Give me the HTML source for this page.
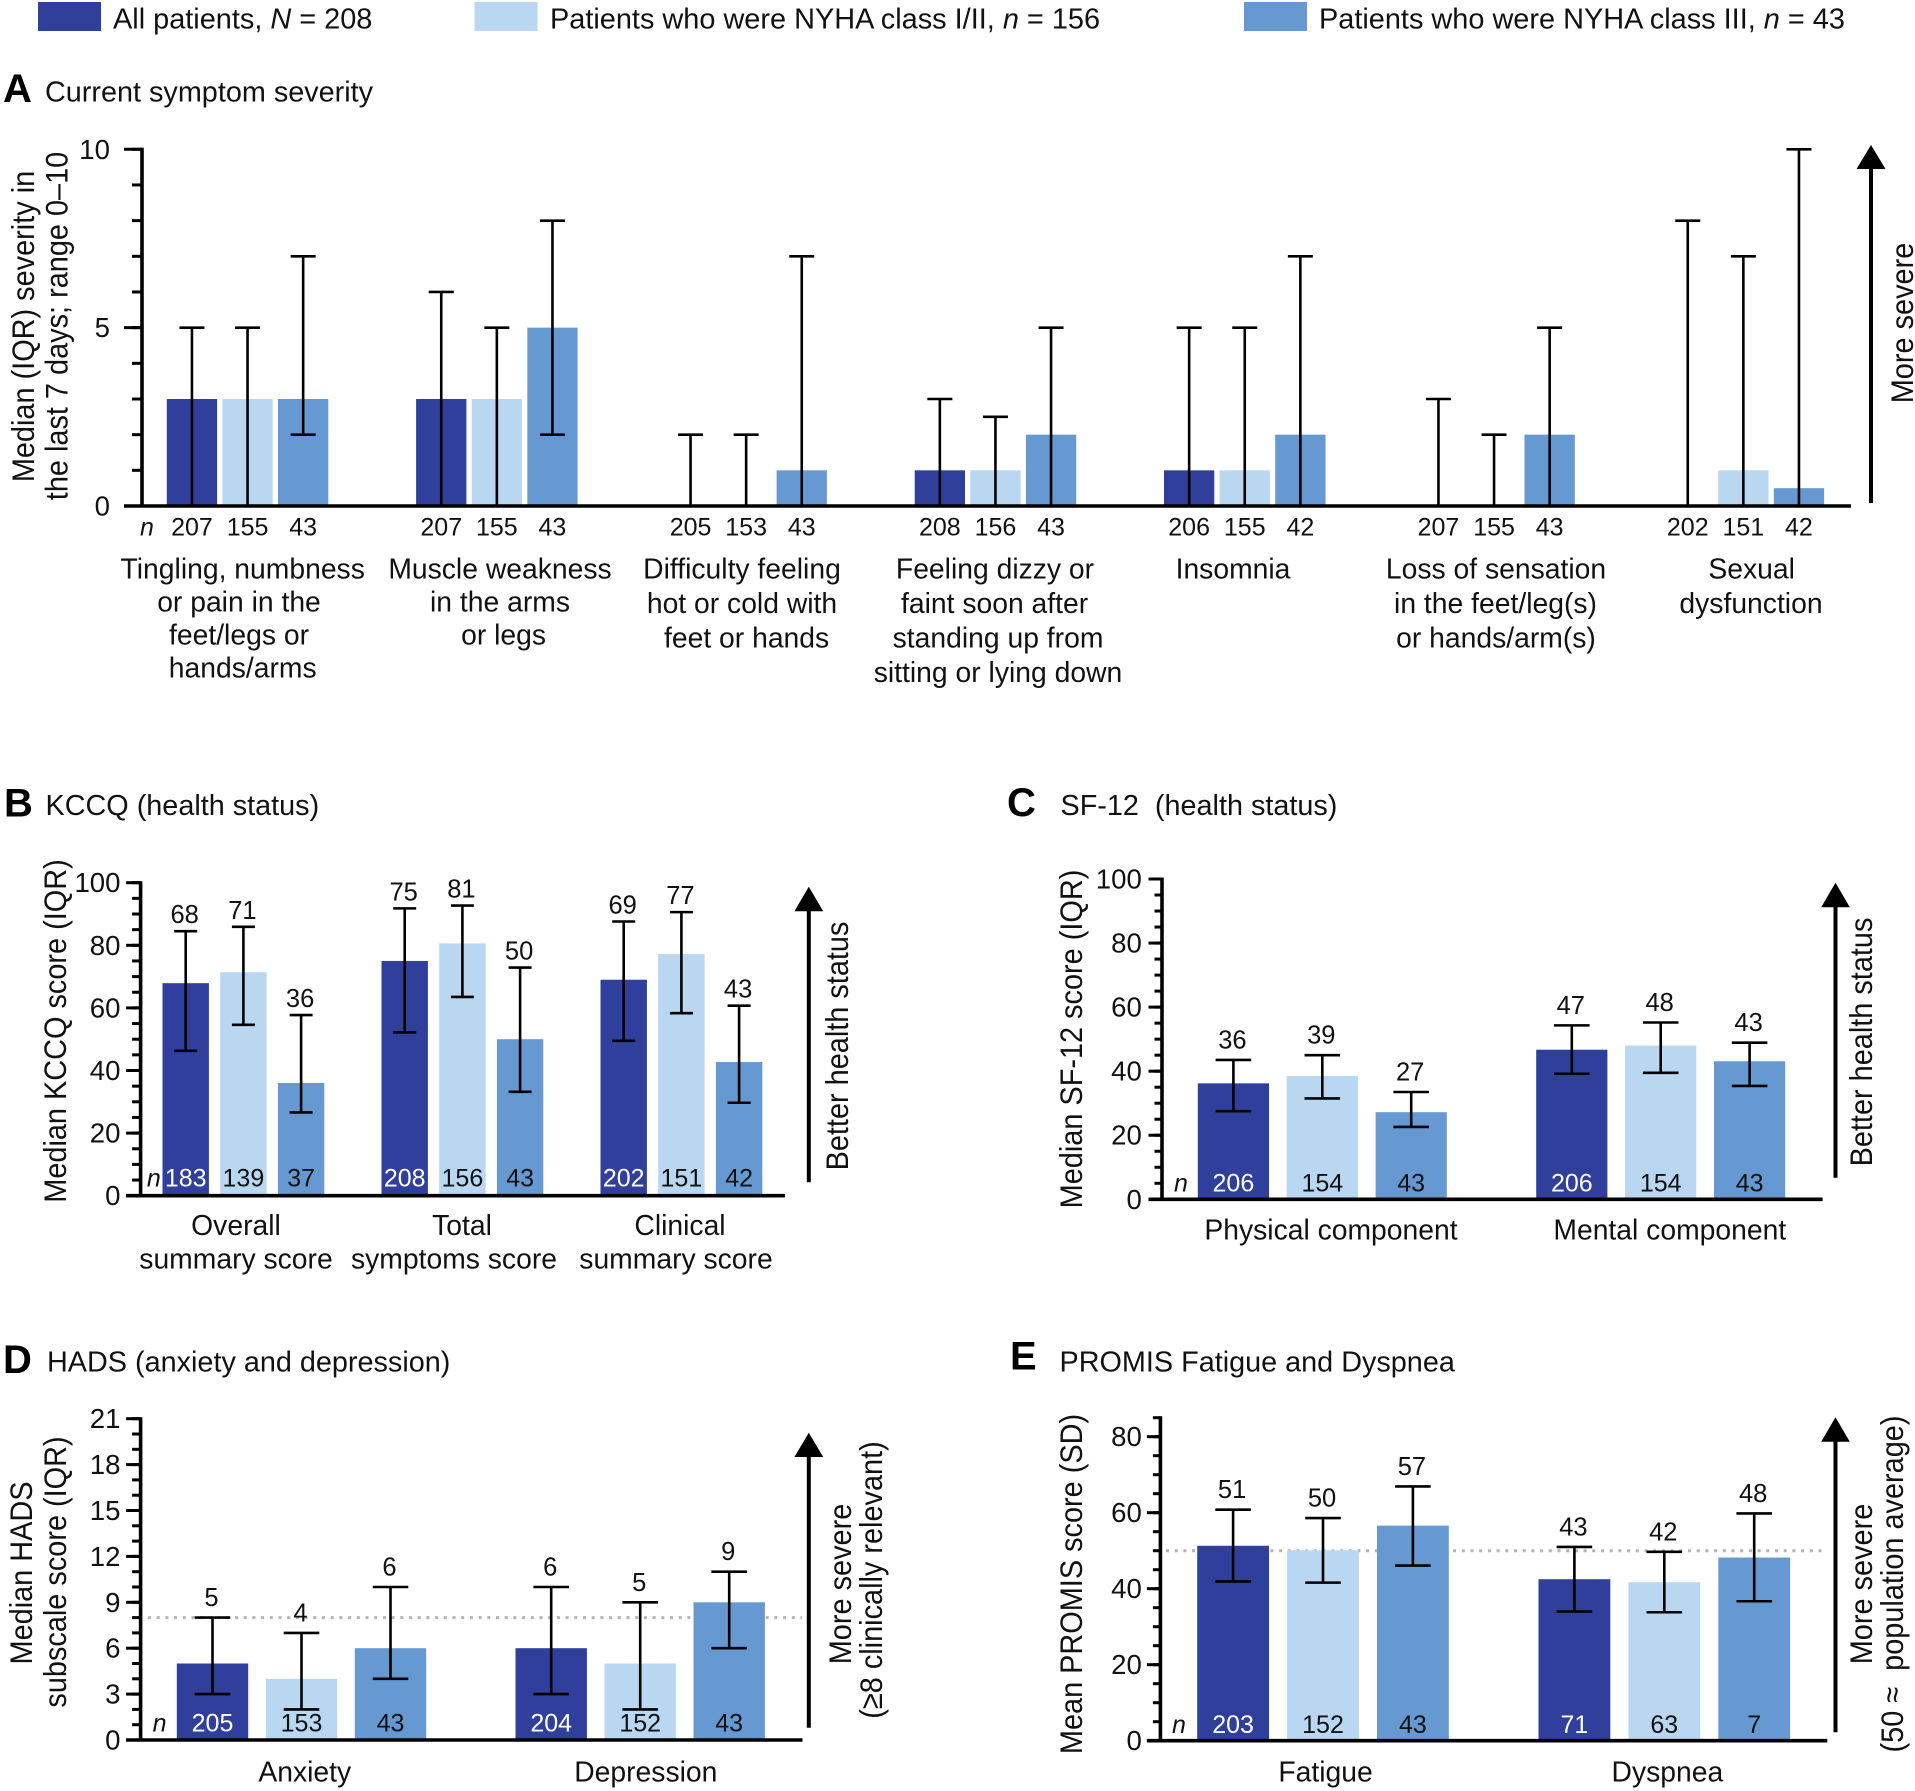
<!DOCTYPE html>
<html lang="en">
<head>
<meta charset="utf-8">
<title>Symptom severity and health status by NYHA class</title>
<style>
html,body{margin:0;padding:0;background:#fff;}
svg{display:block;}
text{font-family:"Liberation Sans",sans-serif;fill:#111;font-size:27.6px;}
.legend-text{font-size:28.9px;}
.cat{font-size:28.3px;text-anchor:middle;}
.rot{text-anchor:middle;font-size:28.9px;}
.title{font-size:28.8px;}
.letter{font-size:40px;font-weight:bold;fill:#000;}
</style>
</head>
<body>
<svg id="figure" xmlns="http://www.w3.org/2000/svg" width="1915" height="1791" viewBox="0 0 1915 1791">
  <g>
    <rect x="38" y="2" width="63" height="29" fill="#303f9b"/>
    <text class="legend-text" x="113" y="28.5">All patients, <tspan font-style="italic">N</tspan> = 208</text>
    <rect x="474.6" y="2" width="63" height="29" fill="#b9d7f1"/>
    <text class="legend-text" x="550" y="28.5">Patients who were NYHA class I/II, <tspan font-style="italic">n</tspan> = 156</text>
    <rect x="1244" y="2" width="63" height="29" fill="#6699d2"/>
    <text class="legend-text" x="1319" y="28.5">Patients who were NYHA class III, <tspan font-style="italic">n</tspan> = 43</text>
  </g>

  <g>
    <text class="letter" x="3" y="102">A</text>
    <text class="title" x="45" y="101.5">Current symptom severity</text>
    <text class="letter" x="4" y="816.5">B</text>
    <text class="title" x="45.5" y="815">KCCQ (health status)</text>
    <text class="letter" x="1007" y="816">C</text>
    <text class="title" x="1060.5" y="815" xml:space="preserve">SF-12  (health status)</text>
    <text class="letter" x="3" y="1373">D</text>
    <text class="title" x="47" y="1371.7">HADS (anxiety and depression)</text>
    <text class="letter" x="1010" y="1369.5">E</text>
    <text class="title" x="1059.5" y="1371.7">PROMIS Fatigue and Dyspnea</text>
  </g>

  <g>
    <text class="rot" transform="translate(34,326.5) rotate(-90) scale(1,1.1)">Median (IQR) severity in</text>
    <text class="rot" transform="translate(67.5,326) rotate(-90) scale(1,1.1)">the last 7 days; range 0–10</text>
    <text class="rot" transform="translate(66,1031) rotate(-90) scale(1,1.1)">Median KCCQ score (IQR)</text>
    <text class="rot" transform="translate(1082,1039) rotate(-90) scale(1,1.1)">Median SF-12 score (IQR)</text>
    <text class="rot" transform="translate(32,1573) rotate(-90) scale(1,1.1)">Median HADS</text>
    <text class="rot" transform="translate(66,1572) rotate(-90) scale(1,1.1)">subscale score (IQR)</text>
    <text class="rot" transform="translate(1082,1584) rotate(-90) scale(1,1.1)">Mean PROMIS score (SD)</text>
  </g>

  <g>
    <line x1="1871" y1="503" x2="1871" y2="165" stroke="#000" stroke-width="4"/>
    <polygon points="1871,145 1885.5,169 1856.5,169" fill="#000"/>
    <text class="rot" transform="translate(1913,323) rotate(-90) scale(1,1.1)">More severe</text>

    <line x1="808.8" y1="1182.3" x2="808.8" y2="905" stroke="#000" stroke-width="4"/>
    <polygon points="808.8,886.7 823.2,911.3 794.4,911.3" fill="#000"/>
    <text class="rot" transform="translate(848,1046) rotate(-90) scale(1,1.1)">Better health status</text>

    <line x1="1835.5" y1="1177.7" x2="1835.5" y2="900" stroke="#000" stroke-width="4"/>
    <polygon points="1835.5,882.7 1849.8,907.3 1821.2,907.3" fill="#000"/>
    <text class="rot" transform="translate(1872,1042) rotate(-90) scale(1,1.1)">Better health status</text>

    <line x1="808.8" y1="1727.7" x2="808.8" y2="1450" stroke="#000" stroke-width="4"/>
    <polygon points="808.8,1432.7 823.2,1457 794.4,1457" fill="#000"/>
    <text class="rot" transform="translate(851,1584) rotate(-90) scale(1,1.1)">More severe</text>
    <text class="rot" transform="translate(882,1580) rotate(-90) scale(1,1.1)">(≥8 clinically relevant)</text>

    <line x1="1835.5" y1="1732.3" x2="1835.5" y2="1435" stroke="#000" stroke-width="4"/>
    <polygon points="1835.5,1417.3 1849.8,1441.7 1821.2,1441.7" fill="#000"/>
    <text class="rot" transform="translate(1872,1584) rotate(-90) scale(1,1.1)">More severe</text>
    <text class="rot" transform="translate(1903,1584) rotate(-90) scale(1,1.1)" xml:space="preserve">(50 ≈  population average)</text>
  </g>

  <g>
    <text class="cat" x="242.7" y="578.5">Tingling, numbness</text>
    <text class="cat" x="239" y="611.5">or pain in the</text>
    <text class="cat" x="239" y="644.5">feet/legs or</text>
    <text class="cat" x="242.7" y="677.5">hands/arms</text>
    <text class="cat" x="500" y="578.5">Muscle weakness</text>
    <text class="cat" x="500" y="611.5">in the arms</text>
    <text class="cat" x="503.6" y="644.5">or legs</text>
    <text class="cat" x="742" y="578.5">Difficulty feeling</text>
    <text class="cat" x="742" y="613">hot or cold with</text>
    <text class="cat" x="746.6" y="647.5">feet or hands</text>
    <text class="cat" x="995" y="578.5">Feeling dizzy or</text>
    <text class="cat" x="994.6" y="613">faint soon after</text>
    <text class="cat" x="998" y="647.5">standing up from</text>
    <text class="cat" x="998" y="682">sitting or lying down</text>
    <text class="cat" x="1233" y="578.5">Insomnia</text>
    <text class="cat" x="1496" y="578.5">Loss of sensation</text>
    <text class="cat" x="1495.5" y="613">in the feet/leg(s)</text>
    <text class="cat" x="1496" y="647.5">or hands/arm(s)</text>
    <text class="cat" x="1751.7" y="578.5">Sexual</text>
    <text class="cat" x="1751" y="613">dysfunction</text>

    <text class="cat" x="236" y="1235">Overall</text>
    <text class="cat" x="236" y="1268.3">summary score</text>
    <text class="cat" x="462" y="1235">Total</text>
    <text class="cat" x="454" y="1268.3">symptoms score</text>
    <text class="cat" x="680" y="1235">Clinical</text>
    <text class="cat" x="676" y="1268.3">summary score</text>

    <text class="cat" x="1331" y="1239.3">Physical component</text>
    <text class="cat" x="1669.8" y="1239.3">Mental component</text>

    <text class="cat" x="304.8" y="1781.7">Anxiety</text>
    <text class="cat" x="645.8" y="1781.7">Depression</text>

    <text class="cat" x="1325.6" y="1781.7">Fatigue</text>
    <text class="cat" x="1667.4" y="1781.7">Dyspnea</text>
  </g>

  <g id="plots"></g>
</svg>

<script>
// ---- Panel A: current symptom severity ----
const panelACategories = ['Tingling', 'Muscle weakness', 'Difficulty feeling', 'Feeling dizzy', 'Insomnia', 'Loss of sensation', 'Sexual dysfunction'];
const panelAMedians = [[3,3,3],[3,3,5],[0,0,1],[1,1,2],[1,1,2],[0,0,2],[0,1,0.5]];
const panelAUpper = [[5,5,7],[6,5,8],[2,2,7],[3,2.5,5],[5,5,7],[3,2,5],[8,7,10]];
const panelALower = [[0,0,2],[0,0,2],[0,0,0],[0,0,0],[0,0,0],[0,0,0],[0,0,0]];
const panelACounts = [['207','155','43'],['207','155','43'],['205','153','43'],['208','156','43'],['206','155','42'],['207','155','43'],['202','151','42']];
const panelATicks = [0,5,10];

// ---- Panel B: KCCQ ----
const panelBCategories = ['Overall summary score', 'Total symptoms score', 'Clinical summary score'];
const panelBMedians = [[67.9,71.4,36],[75,80.6,50],[69,77.2,42.7]];
const panelBUpper = [[84.5,85.9,57.7],[91.8,92.7,72.9],[87.6,90.6,60.7]];
const panelBLower = [[46.3,54.6,26.6],[52.2,63.5,33.2],[49.5,58.3,29.7]];
const panelBPrinted = [['68','71','36'],['75','81','50'],['69','77','43']];
const panelBCounts = [['183','139','37'],['208','156','43'],['202','151','42']];
const panelBTicks = [0,20,40,60,80,100];

// ---- Panel C: SF-12 ----
const panelCCategories = ['Physical component', 'Mental component'];
const panelCMedians = [[36.2,38.5,27.2],[46.7,48,43.1]];
const panelCUpper = [[43.5,45,33.5],[54.3,55.2,48.9]];
const panelCLower = [[27.5,31.5,22.6],[39.2,39.5,35.4]];
const panelCPrinted = [['36','39','27'],['47','48','43']];
const panelCCounts = [['206','154','43'],['206','154','43']];
const panelCTicks = [0,20,40,60,80,100];

// ---- Panel D: HADS ----
const panelDCategories = ['Anxiety', 'Depression'];
const panelDMedians = [[5,4,6],[6,5,9]];
const panelDUpper = [[8,7,10],[10,9,11]];
const panelDLower = [[3,2,4],[3,2,6]];
const panelDPrinted = [['5','4','6'],['6','5','9']];
const panelDCounts = [['205','153','43'],['204','152','43']];
const panelDTicks = [0,3,6,9,12,15,18,21];
const panelDReference = 8;

// ---- Panel E: PROMIS ----
const panelECategories = ['Fatigue', 'Dyspnea'];
const panelEMedians = [[51.3,50.1,56.6],[42.5,41.7,48.2]];
const panelEUpper = [[60.8,58.6,66.9],[51,49.7,59.8]];
const panelELower = [[41.9,41.6,46.1],[34,33.8,36.7]];
const panelEPrinted = [['51','50','57'],['43','42','48']];
const panelECounts = [['203','152','43'],['71','63','7']];
const panelETicks = [0,20,40,60,80];
const panelEReference = 50;

const SERIES_FILL = ['#303f9b', '#b9d7f1', '#6699d2'];
const COUNT_FILL = ['#ffffff', '#111111', '#111111'];
const NS = 'http://www.w3.org/2000/svg';

function make(tag, attrs, parent) {
  const el = document.createElementNS(NS, tag);
  for (const k in attrs) el.setAttribute(k, attrs[k]);
  parent.appendChild(el);
  return el;
}

function drawPanel(cfg) {
  const root = document.getElementById('plots');
  const g = make('g', {}, root);
  
  

  const yOf = function (v) { return cfg.y0 - (v / cfg.yMax) * (cfg.y0 - cfg.yTop); };
  const barX = function (i, s) { return cfg.firstBarX + i * cfg.groupPitch + s * cfg.barPitch; };
  const centerX = function (i, s) { return barX(i, s) + cfg.barWidth / 2; };

  // reference line sits behind the bars
  if (cfg.reference !== undefined) {
    const ref = make('line', {
      x1: cfg.refX1, x2: cfg.refX2, y1: yOf(cfg.reference), y2: yOf(cfg.reference),
      stroke: '#b4b4b4', 'stroke-width': 3, 'stroke-dasharray': '3 5.7'
    }, g);
    
    
  }

  // bars
  cfg.medians.forEach(function (group, i) {
    group.forEach(function (value, s) {
      if (value <= 0) return;
      const bar = make('rect', {
        x: barX(i, s), y: yOf(value), width: cfg.barWidth, height: cfg.y0 - yOf(value),
        fill: SERIES_FILL[s]
      }, g);
      
      
    });
  });

  // y axis line
  const axisY = make('line', {
    x1: cfg.axisX, x2: cfg.axisX, y1: cfg.y0, y2: yOf(cfg.yMax) - 1.5,
    stroke: '#000', 'stroke-width': 3.6
  }, g);
  
  

  // minor ticks
  for (let v = 0; v <= cfg.yMax + 1e-6; v += cfg.minorStep) {
    const minor = make('line', {
      x1: cfg.axisX - cfg.minorLen, x2: cfg.axisX, y1: yOf(v), y2: yOf(v),
      stroke: '#000', 'stroke-width': 3
    }, g);
    
    
  }

  // major ticks and labels
  cfg.ticks.forEach(function (v) {
    const major = make('line', {
      x1: cfg.axisX - cfg.majorLen, x2: cfg.axisX, y1: yOf(v), y2: yOf(v),
      stroke: '#000', 'stroke-width': 3
    }, g);
    
    
    const label = make('text', { x: cfg.tickLabelX, y: yOf(v) + 9.5, 'text-anchor': 'end' }, g);
    label.textContent = String(v);
    
    
  });

  // x axis baseline
  const axisX = make('line', {
    x1: cfg.axisX - cfg.majorLen, x2: cfg.xRight, y1: cfg.y0, y2: cfg.y0,
    stroke: '#000', 'stroke-width': 3.6
  }, g);
  
  

  // error bars
  cfg.upper.forEach(function (group, i) {
    group.forEach(function (up, s) {
      const cx = centerX(i, s);
      const low = cfg.lower[i][s];
      const stem = make('line', {
        x1: cx, x2: cx, y1: yOf(up), y2: yOf(low), stroke: '#000', 'stroke-width': 2.6
      }, g);
      
      
      const capUp = make('line', {
        x1: cx - cfg.capWidth / 2, x2: cx + cfg.capWidth / 2, y1: yOf(up), y2: yOf(up),
        stroke: '#000', 'stroke-width': 2.6
      }, g);
      
      
      if (low > 0) {
        const capLow = make('line', {
          x1: cx - cfg.capWidth / 2, x2: cx + cfg.capWidth / 2, y1: yOf(low), y2: yOf(low),
          stroke: '#000', 'stroke-width': 2.6
        }, g);
        
        
      }
      if (cfg.printed) {
        const val = make('text', {
          x: cx - 1, y: yOf(up) - cfg.valueGap, 'text-anchor': 'middle', style: 'font-size:25.5px'
        }, g);
        val.textContent = cfg.printed[i][s];
        
        
      }
      const count = make('text', {
        x: cx, y: cfg.countY, 'text-anchor': 'middle',
        style: 'font-size:25px;fill:' + (cfg.countsBelow ? '#111111' : COUNT_FILL[s])
      }, g);
      count.textContent = cfg.counts[i][s];
      
      
    });
  });

  // italic n marker
  const nMark = make('text', {
    x: cfg.nX, y: cfg.countY, 'text-anchor': 'middle', 'font-style': 'italic', style: 'font-size:25px'
  }, g);
  nMark.textContent = 'n';
  
  
}

drawPanel({
  id: 'a', medians: panelAMedians, upper: panelAUpper, lower: panelALower, counts: panelACounts, ticks: panelATicks,
  yMax: 10, y0: 506, yTop: 149.3, axisX: 142, xRight: 1851, majorLen: 18, minorLen: 10, minorStep: 1, tickLabelX: 110,
  firstBarX: 166.8, groupPitch: 249.3, barPitch: 55.6, barWidth: 50.3, capWidth: 25, countY: 535.5, countsBelow: true, nX: 147
});
drawPanel({
  id: 'b', medians: panelBMedians, upper: panelBUpper, lower: panelBLower, counts: panelBCounts, printed: panelBPrinted, ticks: panelBTicks,
  yMax: 100, y0: 1195.7, yTop: 882.7, axisX: 140.6, xRight: 785, majorLen: 14.5, minorLen: 8.5, minorStep: 5, tickLabelX: 120.5,
  firstBarX: 162.5, groupPitch: 219, barPitch: 57.7, barWidth: 46.4, capWidth: 23, valueGap: 8, countY: 1186.7, nX: 153.8
});
drawPanel({
  id: 'c', medians: panelCMedians, upper: panelCUpper, lower: panelCLower, counts: panelCCounts, printed: panelCPrinted, ticks: panelCTicks,
  yMax: 100, y0: 1199.3, yTop: 879, axisX: 1162, xRight: 1822.6, majorLen: 13.5, minorLen: 7.5, minorStep: 5, tickLabelX: 1141.8,
  firstBarX: 1197.8, groupPitch: 338.4, barPitch: 88.9, barWidth: 71.2, capWidth: 35.6, valueGap: 11.5, countY: 1191.7, nX: 1181
});
drawPanel({
  id: 'd', medians: panelDMedians, upper: panelDUpper, lower: panelDLower, counts: panelDCounts, printed: panelDPrinted, ticks: panelDTicks,
  yMax: 21, y0: 1740, yTop: 1418.7, axisX: 140.6, xRight: 802.5, majorLen: 14.5, minorLen: 8.5, minorStep: 1, tickLabelX: 120.5,
  firstBarX: 176.8, groupPitch: 338.7, barPitch: 89, barWidth: 71.4, capWidth: 35.6, valueGap: 11.5, countY: 1731.7, nX: 159.6,
  reference: panelDReference, refX1: 148, refX2: 802
});
drawPanel({
  id: 'e', medians: panelEMedians, upper: panelEUpper, lower: panelELower, counts: panelECounts, printed: panelEPrinted, ticks: panelETicks,
  yMax: 85, y0: 1740.7, yTop: 1417.7, axisX: 1160.4, xRight: 1827.3, majorLen: 13.5, minorLen: 7.5, minorStep: 5, tickLabelX: 1141.8,
  firstBarX: 1197.2, groupPitch: 341.3, barPitch: 89.9, barWidth: 71.8, capWidth: 35.6, valueGap: 11.5, countY: 1733, nX: 1179,
  reference: panelEReference, refX1: 1166, refX2: 1827
});
</script>
</body>
</html>
